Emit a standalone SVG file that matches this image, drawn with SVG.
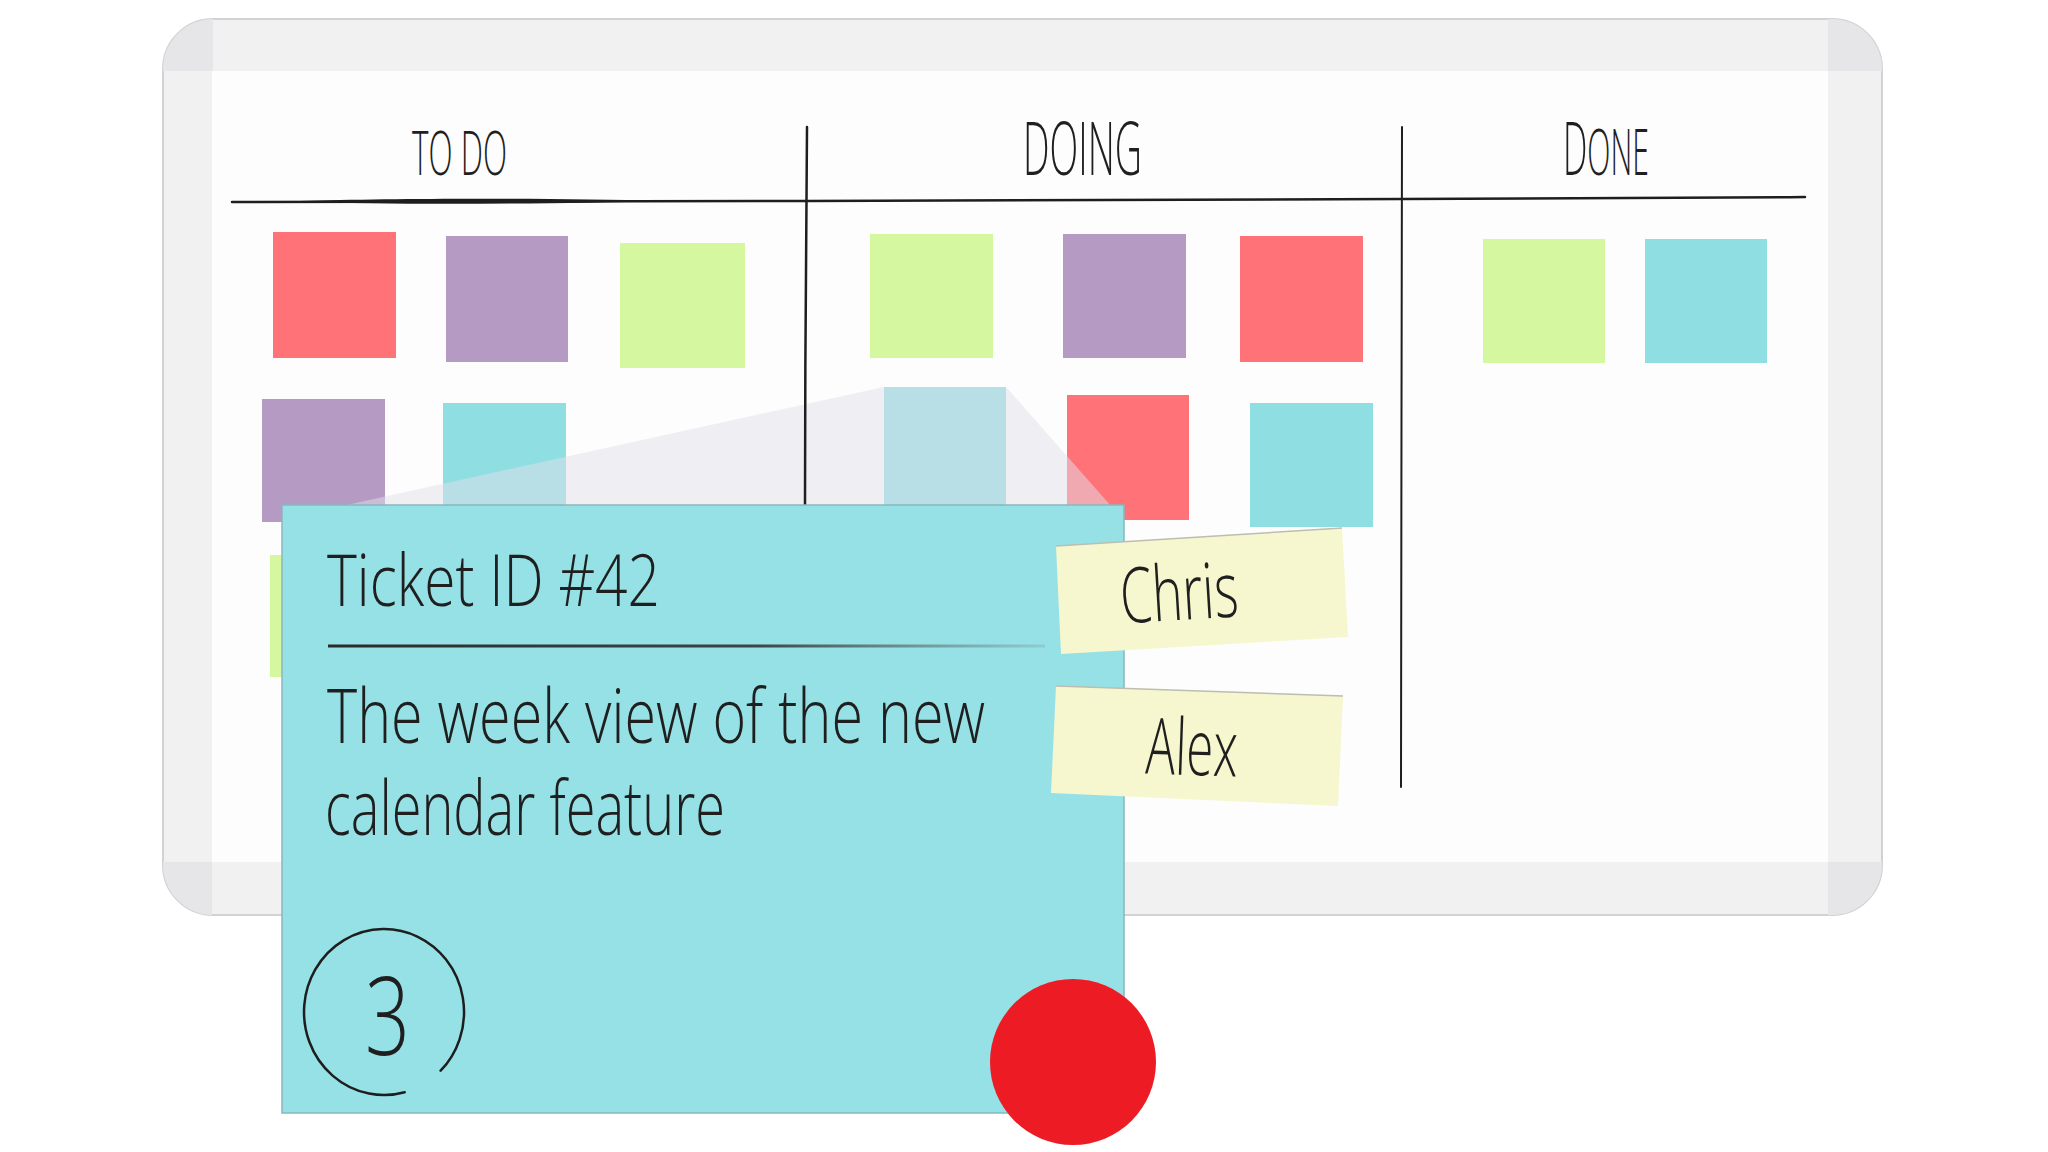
<svg xmlns="http://www.w3.org/2000/svg" width="2048" height="1152" viewBox="0 0 2048 1152">
<style>
.hand{font-family:"Open Sans","Liberation Sans Narrow","Liberation Sans",sans-serif;font-weight:300;fill:#1f1f1f}
.red{fill:#ff7378}.pur{fill:#b59bc4}.grn{fill:#d5f7a0}.cya{fill:#8fdfe2}
.lbl{fill:#f6f7cf}
.ink{stroke:#1e1e1e;fill:none;stroke-linecap:round}
</style>
<defs>
<linearGradient id="sep" gradientUnits="userSpaceOnUse" x1="328" y1="646" x2="1045" y2="646">
<stop offset="0" stop-color="#2a2a2a"/><stop offset="0.6" stop-color="#333" stop-opacity="0.9"/><stop offset="1" stop-color="#555" stop-opacity="0.15"/>
</linearGradient>
</defs>
<rect width="2048" height="1152" fill="#ffffff"/>
<g id="board">
<rect x="163" y="19" width="1719" height="896" rx="50" fill="#f1f1f2" stroke="#d2d2d4" stroke-width="2"/>
<path d="M163 71 V69 A50 50 0 0 1 213 19 V71 Z" fill="#e6e6e8"/>
<path d="M1828 19 H1832 A50 50 0 0 1 1882 69 V71 H1828 Z" fill="#e6e6e8"/>
<path d="M163 862 H212 V915 A50 50 0 0 1 163 865 Z" fill="#e6e6e8"/>
<path d="M1828 862 H1882 V865 A50 50 0 0 1 1832 915 H1828 Z" fill="#e6e6e8"/>
<rect x="212" y="71" width="1616" height="791" fill="#fdfdfd"/>
</g>
<g id="headers">
<text id="todo" class="hand" x="412" y="175" font-size="60" textLength="95" lengthAdjust="spacingAndGlyphs">TO DO</text>
<text id="doing" class="hand" x="1023" y="175" font-size="73" textLength="119" lengthAdjust="spacingAndGlyphs">DOING</text>
<text id="done" class="hand" x="1563" y="175" font-size="73" textLength="86" lengthAdjust="spacingAndGlyphs">D<tspan font-size="64">ONE</tspan></text>
</g>
<g id="notes">
<g id="n1"><rect class="red" x="273" y="232" width="123" height="126"/></g>
<g id="n2"><rect class="pur" x="446" y="236" width="122" height="126"/></g>
<g id="n3"><rect class="grn" x="620" y="243" width="125" height="125"/></g>
<g id="n4"><rect class="pur" x="262" y="399" width="123" height="123"/></g>
<g id="n5"><rect class="cya" x="443" y="403" width="123" height="123"/></g>
<g id="n6"><rect class="grn" x="270" y="555" width="122" height="122"/></g>
<g id="n7"><rect class="grn" x="870" y="234" width="123" height="124"/></g>
<g id="n8"><rect class="pur" x="1063" y="234" width="123" height="124"/></g>
<g id="n9"><rect class="red" x="1240" y="236" width="123" height="126"/></g>
<g id="n10"><rect class="grn" x="1483" y="239" width="122" height="124"/></g>
<g id="n11"><rect class="cya" x="1645" y="239" width="122" height="124"/></g>
<g id="n12"><rect class="cya" x="884" y="387" width="122" height="125"/></g>
<g id="n13"><rect class="red" x="1067" y="395" width="122" height="125"/></g>
<g id="n14"><rect class="cya" x="1250" y="403" width="123" height="124"/></g>
</g>
<polygon id="zoom-lens" points="342,506 884,387 1006,387 1111,506" fill="rgb(225,223,231)" fill-opacity="0.5"/>
<g id="connectors">
<path class="ink" d="M232 202 C500 201 700 201 806 201 C1000 200 1200 201 1402 199 C1600 198 1700 198 1805 197" stroke-width="2.5"/>
<path d="M300 201 C400 198 560 198 660 201 C560 204 400 205 300 202 Z" fill="#1e1e1e"/>
<path class="ink" d="M807 127 C806 250 805 380 805 506" stroke-width="2.5"/>
<path class="ink" d="M1402 127 C1401 350 1402 560 1401 787" stroke-width="2"/>
</g>
<g id="card">
<rect x="282" y="505" width="842" height="608" fill="#96e1e6" stroke="#86b8bd" stroke-width="1.5"/>
<text class="hand" x="327" y="606" font-size="72" textLength="333" lengthAdjust="spacingAndGlyphs">Ticket ID #42</text>
<line x1="328" y1="646" x2="1045" y2="646" stroke="url(#sep)" stroke-width="3"/>
<text class="hand" font-size="76"><tspan x="327" y="743" textLength="658" lengthAdjust="spacingAndGlyphs">The week view of the new</tspan><tspan x="325" y="835" textLength="400" lengthAdjust="spacingAndGlyphs">calendar feature</tspan></text>
<path class="ink" d="M440.6 1070.7 A80 83 0 1 0 404.7 1092.2" stroke-width="2.5"/>
<text class="hand" x="365" y="1055" font-size="108" textLength="45" lengthAdjust="spacingAndGlyphs">3</text>
</g>
<g id="label-chris">
<polygon class="lbl" points="1056,546 1342,528 1348,637 1061,654"/>
<line x1="1056" y1="546" x2="1342" y2="528" stroke="#bdbdb0" stroke-width="1.5"/>
<text class="hand" x="1120" y="620" font-size="77" textLength="118" lengthAdjust="spacingAndGlyphs" transform="rotate(-3.5 1179 592)">Chris</text>
</g>
<g id="label-alex">
<polygon class="lbl" points="1056,686 1343,696 1338,806 1051,793"/>
<line x1="1056" y1="686" x2="1343" y2="696" stroke="#bdbdb0" stroke-width="1.5"/>
<text class="hand" x="1146" y="775" font-size="78" textLength="92" lengthAdjust="spacingAndGlyphs" transform="rotate(2 1192 746)">Alex</text>
</g>
<g id="dot">
<circle cx="1073" cy="1062" r="83" fill="#ed1c24"/>
</g>
</svg>
